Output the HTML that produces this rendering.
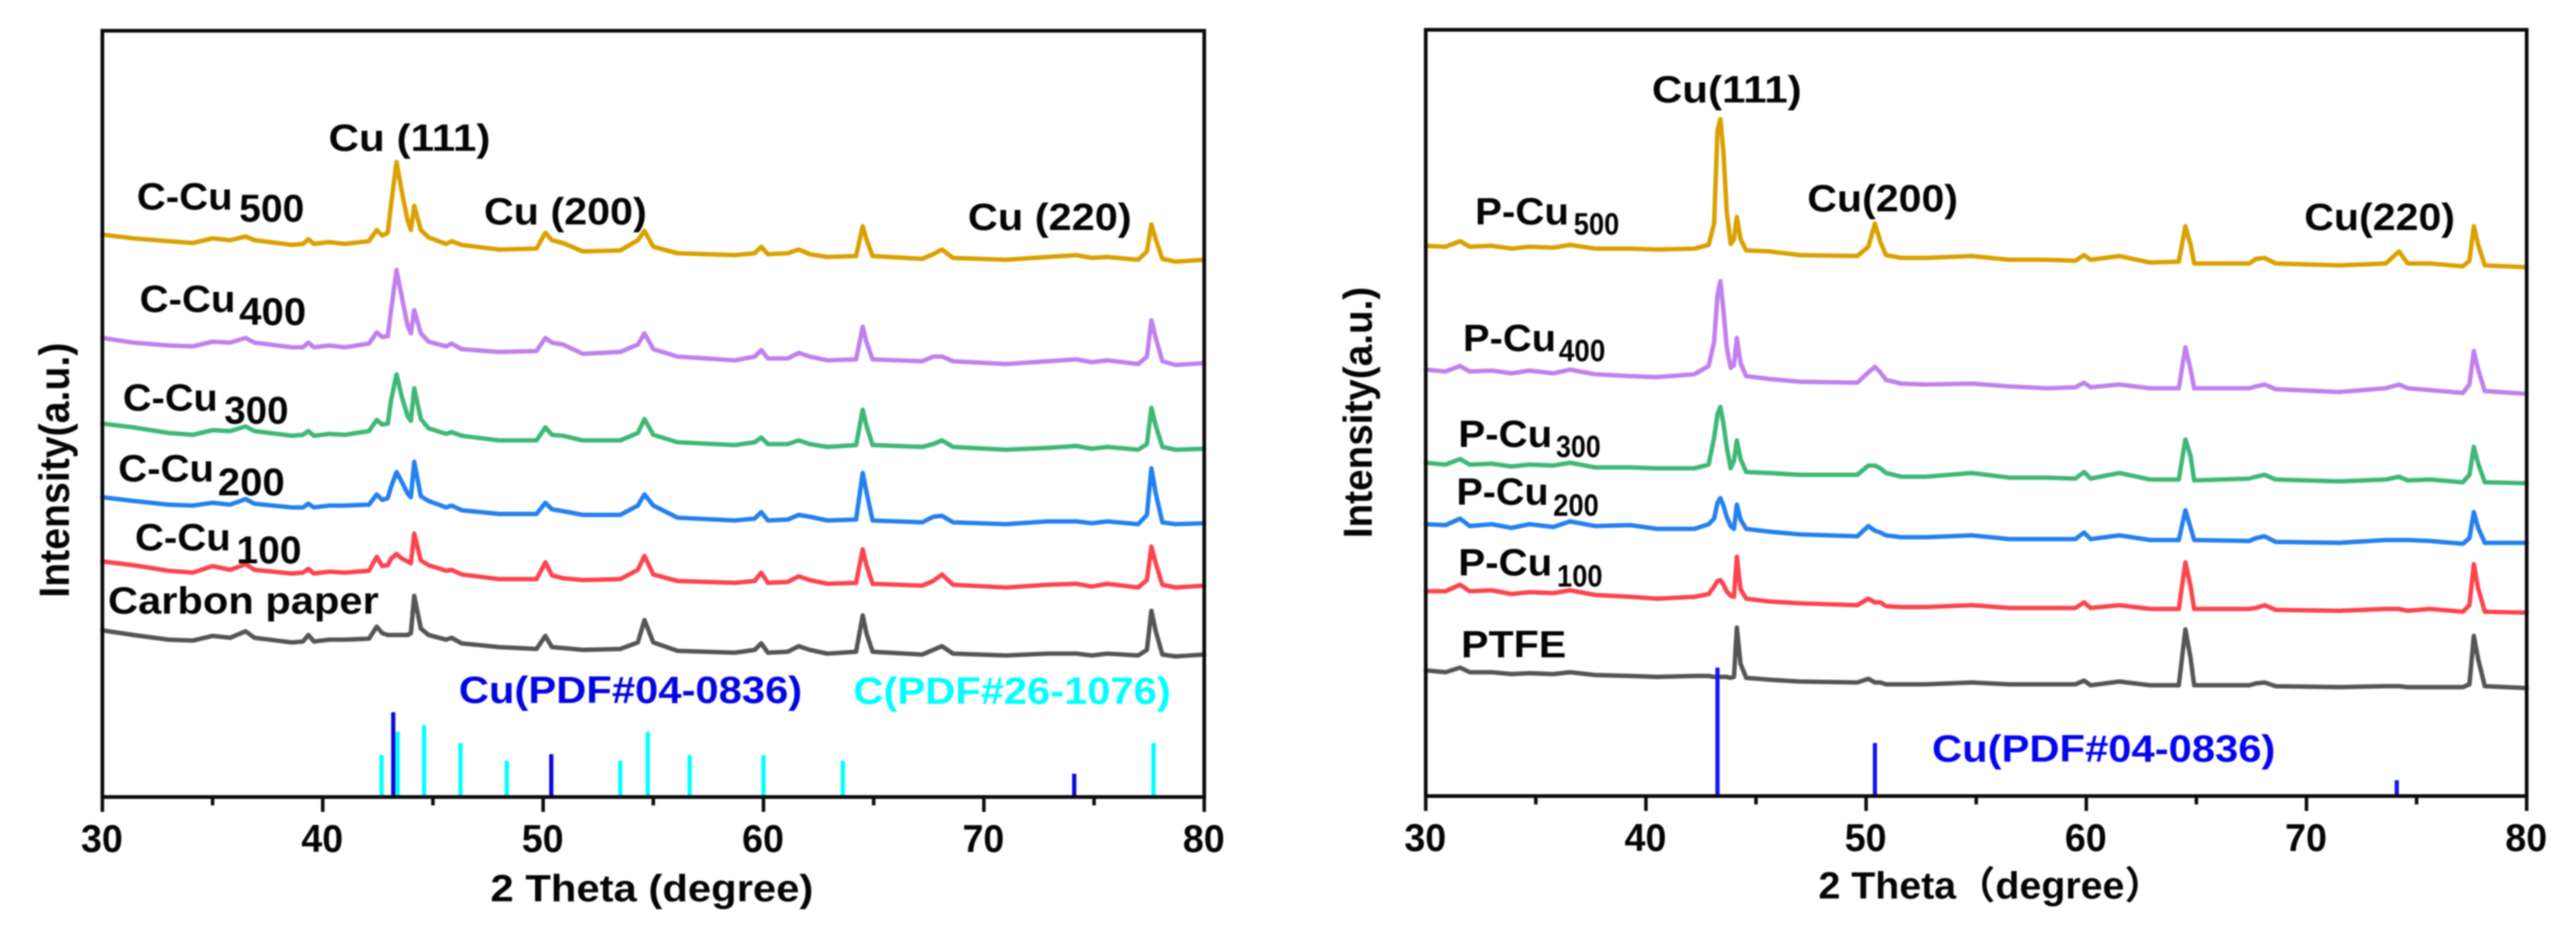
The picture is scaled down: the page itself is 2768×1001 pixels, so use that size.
<!DOCTYPE html>
<html lang="en">
<head>
<meta charset="utf-8">
<title>XRD patterns of C-Cu and P-Cu samples</title>
<style>
html,body{margin:0;padding:0;background:#fff;width:2768px;height:1001px;overflow:hidden}
svg{display:block;filter:blur(0.9px)}
text{font-family:"Liberation Sans","Noto Sans CJK SC",sans-serif;font-weight:bold;fill:#050505}
.m{font-size:41px}.s{font-size:42px}.t{font-size:33px}
</style>
</head>
<body>
<svg id="fig" xmlns="http://www.w3.org/2000/svg" width="2768" height="1001" viewBox="0 0 2768 1001">
<rect width="2768" height="1001" fill="#fff"/>
<g id="left-panel"></g>
<g id="right-panel"></g>

<g>
<text transform="translate(74,642) rotate(-90)" font-size="45" textLength="274" lengthAdjust="spacingAndGlyphs">Intensity(a.u.)</text>
<text x="527" y="968" font-size="41" textLength="347" lengthAdjust="spacingAndGlyphs">2 Theta (degree)</text>
<text class="m" x="353" y="162" textLength="174" lengthAdjust="spacingAndGlyphs">Cu (111)</text>
<text class="m" x="520" y="241" textLength="175" lengthAdjust="spacingAndGlyphs">Cu (200)</text>
<text class="m" x="1040" y="247" textLength="176" lengthAdjust="spacingAndGlyphs">Cu (220)</text>
<text class="m" x="147" y="225" textLength="103" lengthAdjust="spacingAndGlyphs">C-Cu</text>
<text class="s" x="257" y="238" textLength="70" lengthAdjust="spacingAndGlyphs">500</text>
<text class="m" x="150" y="335" textLength="103" lengthAdjust="spacingAndGlyphs">C-Cu</text>
<text class="s" x="257" y="349" textLength="72" lengthAdjust="spacingAndGlyphs">400</text>
<text class="m" x="132" y="441" textLength="102" lengthAdjust="spacingAndGlyphs">C-Cu</text>
<text class="s" x="241" y="455" textLength="69" lengthAdjust="spacingAndGlyphs">300</text>
<text class="m" x="127" y="517" textLength="103" lengthAdjust="spacingAndGlyphs">C-Cu</text>
<text class="s" x="234" y="532" textLength="72" lengthAdjust="spacingAndGlyphs">200</text>
<text class="m" x="145" y="591" textLength="103" lengthAdjust="spacingAndGlyphs">C-Cu</text>
<text class="s" x="254" y="605" textLength="70" lengthAdjust="spacingAndGlyphs">100</text>
<text class="m" x="116" y="659" textLength="291" lengthAdjust="spacingAndGlyphs">Carbon paper</text>
<text class="m" x="493" y="755" textLength="369" lengthAdjust="spacingAndGlyphs" style="fill:#0505e0">Cu(PDF#04-0836)</text>
<text class="m" x="917" y="756" textLength="341" lengthAdjust="spacingAndGlyphs" style="fill:#00ffff">C(PDF#26-1076)</text>
</g>

<g>
<text transform="translate(1474,578) rotate(-90)" font-size="44" textLength="270" lengthAdjust="spacingAndGlyphs">Intensity(a.u.)</text>
<text x="1954" y="965" font-size="41" textLength="371" lengthAdjust="spacingAndGlyphs">2 Theta（degree）</text>
<text class="m" x="1775" y="110" textLength="161" lengthAdjust="spacingAndGlyphs">Cu(111)</text>
<text class="m" x="1942" y="227" textLength="162" lengthAdjust="spacingAndGlyphs">Cu(200)</text>
<text class="m" x="2476" y="247" textLength="162" lengthAdjust="spacingAndGlyphs">Cu(220)</text>
<text class="m" x="1585" y="241" textLength="101" lengthAdjust="spacingAndGlyphs">P-Cu</text>
<text class="t" x="1691" y="252" textLength="49" lengthAdjust="spacingAndGlyphs">500</text>
<text class="m" x="1572" y="377" textLength="100" lengthAdjust="spacingAndGlyphs">P-Cu</text>
<text class="t" x="1675" y="388" textLength="50" lengthAdjust="spacingAndGlyphs">400</text>
<text class="m" x="1567" y="480" textLength="101" lengthAdjust="spacingAndGlyphs">P-Cu</text>
<text class="t" x="1672" y="491" textLength="48" lengthAdjust="spacingAndGlyphs">300</text>
<text class="m" x="1565" y="542" textLength="99" lengthAdjust="spacingAndGlyphs">P-Cu</text>
<text class="t" x="1669" y="554" textLength="49" lengthAdjust="spacingAndGlyphs">200</text>
<text class="m" x="1567" y="618" textLength="101" lengthAdjust="spacingAndGlyphs">P-Cu</text>
<text class="t" x="1673" y="630" textLength="49" lengthAdjust="spacingAndGlyphs">100</text>
<text class="m" x="1570" y="706" textLength="113" lengthAdjust="spacingAndGlyphs">PTFE</text>
<text class="m" x="2076" y="818" textLength="369" lengthAdjust="spacingAndGlyphs" style="fill:#0505f0">Cu(PDF#04-0836)</text>
</g>
</svg>

<script>
/* shared axis data */
const xMin = 30;
const xMax = 80;
const majorTicks = [30, 40, 50, 60, 70, 80];
const minorTicks = [35, 45, 55, 65, 75];
const yMax = 823;

/* left panel: 2-theta sample angles */
const leftAngles = [30,31.4,33,34.1,35,35.8,36.5,36.9,38.6,39.1,39.35,39.6,40.3,41,42.1,42.45,42.7,42.95,43.1,43.35,43.6,43.85,44,44.15,44.45,44.8,45.6,45.85,46.3,48,49.7,50.1,50.4,50.9,51.8,53.5,54.3,54.6,55,56.1,58.7,59.6,59.9,60.2,61.1,61.6,62.1,62.9,64.2,64.5,64.67,64.95,67.2,67.7,68.1,68.6,71,72.9,74.2,74.9,75.6,77,77.4,77.6,77.8,78.1,78.7,80];
/* left panel: intensities (stacked a.u.) */
const carbonPaper = [179,174,169,168,173,171,178,171,166,167,174,167,169,169,170,183,176,174,174,174,174,174,176,216,181,174,169,171,165,161,159,173,161,160,158,159,166,190,166,157,155,158,165,155,156,162,158,154,156,195,176,156,153,158,162,154,152,154,154,152,154,152,158,200,178,153,151,153];
const cCu100 = [253,249,243,241,248,244,250,244,240,241,245,240,242,241,243,258,248,249,256,261,256,253,251,283,254,249,243,244,239,234,234,252,238,235,233,234,244,259,239,232,230,232,241,230,231,237,233,229,230,266,249,229,227,232,239,228,225,228,229,226,229,225,233,269,251,228,225,227];
const cCu200 = [322,318,314,313,316,314,320,315,311,311,315,311,313,313,314,325,319,321,333,349,338,326,322,360,323,318,311,313,308,304,304,316,309,307,303,303,313,325,313,300,297,299,306,297,298,303,301,297,298,348,328,297,295,301,302,295,293,296,296,294,296,293,303,353,326,295,293,294];
const cCu300 = [401,397,391,389,394,393,398,393,388,389,393,388,390,389,393,405,400,401,426,454,429,409,404,439,406,396,390,392,388,383,383,397,389,388,383,383,391,406,389,381,378,381,386,379,379,383,379,376,378,416,399,378,376,379,383,376,373,375,377,374,376,373,379,418,399,376,373,374];
const cCu400 = [493,488,485,484,489,488,493,488,483,483,488,483,485,483,487,499,494,495,523,566,536,506,498,523,498,489,484,487,481,478,479,493,488,486,476,478,486,498,481,473,469,473,480,471,471,477,473,469,470,505,489,470,468,473,473,468,465,468,470,467,469,465,473,512,493,468,464,466];
const cCu500 = [604,600,597,595,600,598,602,598,593,594,599,594,596,594,597,609,603,606,636,682,649,619,609,635,609,601,594,597,593,588,589,606,598,595,586,587,598,608,591,584,582,584,591,583,584,588,583,580,581,613,599,581,578,583,588,579,577,580,582,579,580,577,586,615,599,578,575,577];
/* left panel: reference patterns */
const leftCuAngles = [43.2, 50.37, 74.1];
const leftCuIntensity = [91, 46, 25];
const carbonAngles = [42.67, 43.4, 44.6, 46.25, 48.35, 53.5, 54.75, 56.65, 60, 63.6, 77.7];
const carbonIntensity = [45, 70, 77, 58, 39, 39, 70, 45, 45, 39, 58];

/* right panel: 2-theta sample angles */
const rightAngles = [30,30.9,31.56,32,33,33.9,34.7,35.8,36.55,37.7,39.3,40.5,42.2,42.85,43.1,43.25,43.38,43.52,43.67,43.85,44,44.13,44.3,44.55,45.6,47,49.6,50.1,50.4,50.65,50.9,51.6,52.7,54.8,56.5,58.2,59.5,59.9,60.2,61.5,62.9,64.2,64.5,64.74,64.9,67.4,67.7,68.1,68.6,71.5,73.6,74.2,74.6,75.6,77.1,77.4,77.6,77.8,78.1,80];
/* right panel: intensities (stacked a.u.) */
const ptfe = [135,133,138,133,133,131,132,131,133,130,129,128,129,129,128,128,128,128,128,127,128,181,142,127,125,123,122,126,122,122,120,120,120,122,120,120,120,124,119,123,119,119,179,148,119,119,121,122,118,117,118,118,117,117,117,120,172,147,118,116];
const pCu100 = [220,220,227,220,221,217,219,218,221,216,214,212,214,217,225,231,232,227,220,215,214,257,222,212,209,207,205,212,208,208,204,203,203,205,202,202,202,208,202,205,201,201,251,225,201,201,202,205,200,199,201,201,199,201,198,205,249,223,198,197];
const pCu200 = [292,291,298,290,292,288,292,289,295,290,291,287,287,292,298,315,320,312,300,290,287,313,297,287,284,281,279,290,285,283,280,278,278,280,276,276,276,283,276,280,275,275,307,288,275,274,277,279,273,272,275,275,275,274,271,277,305,288,272,272];
const pCu300 = [358,356,362,356,357,354,356,355,358,353,353,352,352,356,385,410,418,400,375,352,360,382,362,348,347,345,345,355,355,352,347,343,343,347,342,342,341,348,341,347,340,340,383,365,339,341,343,345,340,338,340,343,339,340,337,345,375,357,337,336];
const pCu400 = [458,456,462,456,457,454,457,454,458,453,451,450,453,462,488,538,553,522,482,460,463,492,465,451,448,445,444,455,461,455,447,443,442,443,440,438,439,444,439,442,438,438,482,458,438,438,440,442,437,434,438,442,438,436,433,442,478,458,435,432];
const pCu500 = [591,590,596,590,591,588,590,589,592,588,588,587,588,592,615,715,727,692,628,593,598,622,598,586,585,581,580,590,615,595,581,578,578,580,576,576,575,581,576,580,573,574,612,592,572,572,577,578,572,570,572,585,572,572,569,575,612,592,570,568];
/* right panel: reference pattern */
const rightCuAngles = [43.25, 50.4, 74.1];
const rightCuIntensity = [138, 57, 17];

const NS = 'http://www.w3.org/2000/svg';

function makeScaleX(left, right) {
  return function (v) { return left + (v - xMin) / (xMax - xMin) * (right - left); };
}
function makeScaleY(top, bottom) {
  return function (v) { return bottom - v / yMax * (bottom - top); };
}
function addLine(parent, x1, y1, x2, y2, color, width) {
  const l = document.createElementNS(NS, 'line');
  l.setAttribute('x1', x1);
  l.setAttribute('y1', y1);
  l.setAttribute('x2', x2);
  l.setAttribute('y2', y2);
  l.setAttribute('stroke', color);
  l.setAttribute('stroke-width', width);
  parent.appendChild(l);
  return l;
}
function drawFrame(g, sx, top, bottom, left, right) {
  const frame = document.createElementNS(NS, 'rect');
  frame.setAttribute('x', left);
  frame.setAttribute('y', top);
  frame.setAttribute('width', right - left);
  frame.setAttribute('height', bottom - top);
  frame.setAttribute('fill', 'none');
  frame.setAttribute('stroke', '#0c0c0c');
  frame.setAttribute('stroke-width', '4');
  
  
  g.appendChild(frame);
  majorTicks.forEach(function (t) {
    const tick = addLine(g, sx(t), bottom, sx(t), bottom + 16, '#0c0c0c', 3.8);
    
    
    const label = document.createElementNS(NS, 'text');
    label.setAttribute('x', sx(t) - 23);
    label.setAttribute('y', bottom + 59);
    label.setAttribute('font-size', '42');
    label.setAttribute('textLength', '45');
    label.setAttribute('lengthAdjust', 'spacingAndGlyphs');
    label.textContent = String(t);
    
    
    g.appendChild(label);
  });
  minorTicks.forEach(function (t) {
    const tick = addLine(g, sx(t), bottom, sx(t), bottom + 9, '#0c0c0c', 3.8);
    
    
  });
}
function drawSticks(g, sx, sy, angles, intensities, color, name) {
  angles.forEach(function (a, i) {
    const stick = addLine(g, sx(a), sy(0), sx(a), sy(intensities[i]), color, 4.5);
    
    
  });
}
function drawSeries(g, sx, sy, angles, values, color, name) {
  const p = document.createElementNS(NS, 'polyline');
  const pts = angles.map(function (a, i) {
    return sx(a).toFixed(1) + ',' + sy(values[i]).toFixed(1);
  });
  p.setAttribute('points', pts.join(' '));
  p.setAttribute('fill', 'none');
  p.setAttribute('stroke', color);
  p.setAttribute('stroke-width', '4.8');
  p.setAttribute('stroke-linejoin', 'round');
  p.setAttribute('stroke-linecap', 'round');
  
  
  g.appendChild(p);
}

/* left panel */
(function () {
  const g = document.getElementById('left-panel');
  const left = 110, right = 1294, top = 33, bottom = 856;
  const sx = makeScaleX(left, right);
  const sy = makeScaleY(top, bottom);
  drawSeries(g, sx, sy, leftAngles, carbonPaper, '#555555', 'series-carbon-paper');
  drawSeries(g, sx, sy, leftAngles, cCu100, '#fb4450', 'series-c-cu100');
  drawSeries(g, sx, sy, leftAngles, cCu200, '#2480ee', 'series-c-cu200');
  drawSeries(g, sx, sy, leftAngles, cCu300, '#3fb777', 'series-c-cu300');
  drawSeries(g, sx, sy, leftAngles, cCu400, '#c080ee', 'series-c-cu400');
  drawSeries(g, sx, sy, leftAngles, cCu500, '#daa000', 'series-c-cu500');
  drawSticks(g, sx, sy, carbonAngles, carbonIntensity, '#00ffff', 'carbon-reference-stick');
  drawSticks(g, sx, sy, leftCuAngles, leftCuIntensity, '#0a0ad8', 'copper-reference-stick');
  drawFrame(g, sx, top, bottom, left, right);
})();

/* right panel */
(function () {
  const g = document.getElementById('right-panel');
  const left = 1532, right = 2715, top = 32, bottom = 855;
  const sx = makeScaleX(left, right);
  const sy = makeScaleY(top, bottom);
  drawSeries(g, sx, sy, rightAngles, ptfe, '#555555', 'series-ptfe');
  drawSeries(g, sx, sy, rightAngles, pCu100, '#fb4450', 'series-p-cu100');
  drawSeries(g, sx, sy, rightAngles, pCu200, '#2480ee', 'series-p-cu200');
  drawSeries(g, sx, sy, rightAngles, pCu300, '#3fb777', 'series-p-cu300');
  drawSeries(g, sx, sy, rightAngles, pCu400, '#c080ee', 'series-p-cu400');
  drawSeries(g, sx, sy, rightAngles, pCu500, '#daa000', 'series-p-cu500');
  drawSticks(g, sx, sy, rightCuAngles, rightCuIntensity, '#1414f0', 'copper-reference-stick');
  drawFrame(g, sx, top, bottom, left, right);
})();
</script>
</body>
</html>
